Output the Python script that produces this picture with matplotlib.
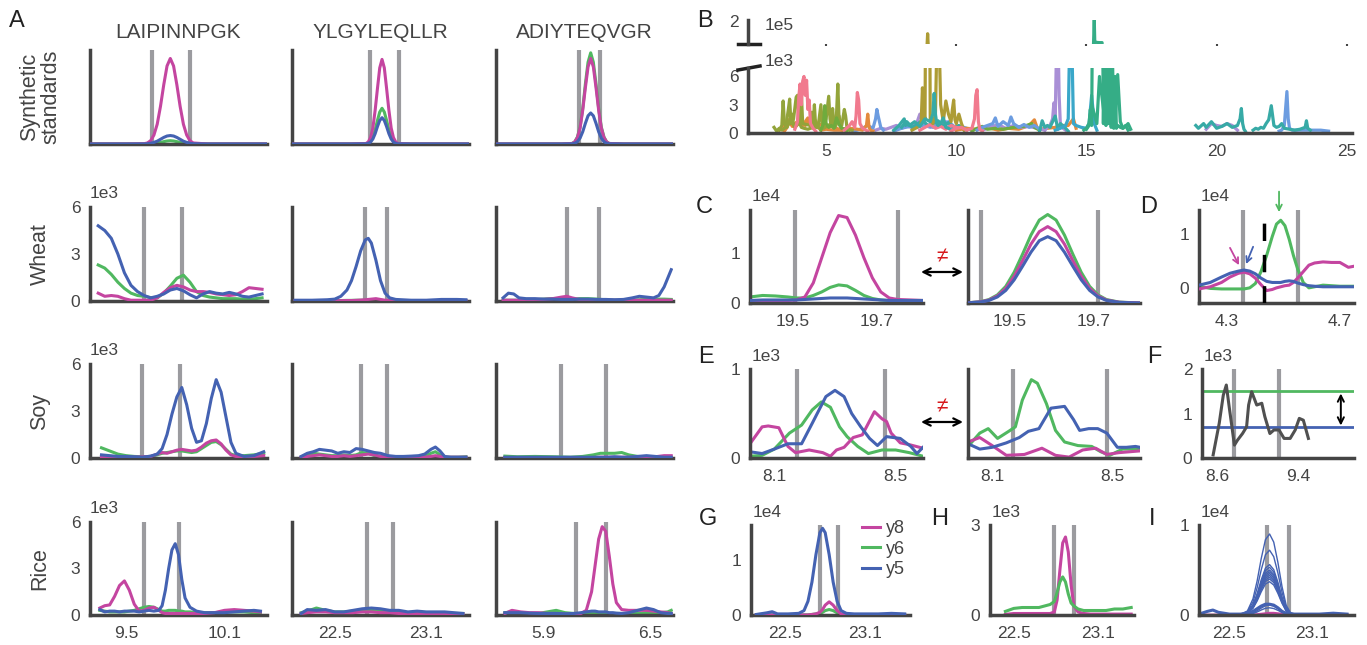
import matplotlib
matplotlib.use("Agg")
import matplotlib.pyplot as plt

plt.rcParams['font.family'] = ['Liberation Sans', 'DejaVu Sans']
plt.rcParams['text.color'] = '#444444'
plt.rcParams['xtick.labelcolor'] = '#444444'
plt.rcParams['ytick.labelcolor'] = '#444444'

PINK = '#c445a0'
GREEN = '#50b860'
BLUE = '#4462b2'
GRAY = '#9b9b9f'
SPINE = '#444444'

# ---------------- panel A data (intensity in 1e3, synthetic row normalised) ----------------
peptides = ['LAIPINNPGK', 'YLGYLEQLLR', 'ADIYTEQVGR']
row_names = ['Synthetic\nstandards', 'Wheat', 'Soy', 'Rice']
A_xlims = [(9.28, 10.36), (22.22, 23.38), (5.63, 6.63)]
A_xticks = [[9.5, 10.1], [22.5, 23.1], [5.9, 6.5]]
A_bounds = [[(9.66, 9.89), (22.73, 22.92), (6.10, 6.22)],
            [(9.61, 9.84), (22.70, 22.84), (6.03, 6.21)],
            [(9.60, 9.83), (22.67, 22.84), (6.00, 6.25)],
            [(9.61, 9.82), (22.71, 22.88), (6.08, 6.25)]]

# synthetic standards
syn1_t = [9.28, 9.50, 9.61, 9.63, 9.65, 9.67, 9.69, 9.71, 9.73, 9.75, 9.77, 9.79, 9.81, 9.83, 9.85, 9.87, 9.89, 9.91, 10.0, 10.36]
syn1_y8 = [0, 0, 0.003, 0.011, 0.035, 0.095, 0.21, 0.40, 0.63, 0.83, 0.91, 0.83, 0.63, 0.40, 0.21, 0.095, 0.035, 0.011, 0, 0]
syn1_y6 = [0, 0, 0, 0.001, 0.003, 0.006, 0.01, 0.017, 0.025, 0.032, 0.035, 0.032, 0.025, 0.017, 0.01, 0.006, 0.003, 0.001, 0, 0]
syn1_y5 = [0, 0, 0.001, 0.003, 0.008, 0.017, 0.03, 0.05, 0.07, 0.085, 0.09, 0.085, 0.07, 0.05, 0.03, 0.017, 0.008, 0.003, 0, 0]

syn2_t = [22.22, 22.60, 22.705, 22.72, 22.735, 22.75, 22.765, 22.78, 22.795, 22.81, 22.825, 22.84, 22.855, 22.87, 22.885, 22.90, 22.915, 23.0, 23.38]
syn2_y8 = [0, 0, 0.005, 0.022, 0.068, 0.17, 0.36, 0.59, 0.81, 0.90, 0.81, 0.59, 0.36, 0.17, 0.068, 0.022, 0.005, 0, 0]
syn2_y6 = [0, 0, 0.002, 0.009, 0.029, 0.072, 0.15, 0.25, 0.34, 0.38, 0.34, 0.25, 0.15, 0.072, 0.029, 0.009, 0.002, 0, 0]
syn2_y5 = [0, 0, 0.002, 0.007, 0.021, 0.053, 0.11, 0.185, 0.25, 0.28, 0.25, 0.185, 0.11, 0.053, 0.021, 0.007, 0.002, 0, 0]

syn3_t = [5.63, 6.0, 6.06, 6.075, 6.09, 6.105, 6.12, 6.135, 6.15, 6.165, 6.18, 6.195, 6.21, 6.225, 6.24, 6.255, 6.27, 6.35, 6.63]
syn3_y8 = [0, 0, 0.005, 0.022, 0.069, 0.17, 0.36, 0.60, 0.82, 0.91, 0.82, 0.60, 0.36, 0.17, 0.069, 0.022, 0.005, 0, 0]
syn3_y6 = [0, 0, 0.006, 0.023, 0.074, 0.18, 0.38, 0.64, 0.87, 0.97, 0.87, 0.64, 0.38, 0.18, 0.074, 0.023, 0.006, 0, 0]
syn3_y5 = [0, 0, 0.002, 0.008, 0.025, 0.063, 0.13, 0.22, 0.30, 0.33, 0.30, 0.22, 0.13, 0.063, 0.025, 0.008, 0.002, 0, 0]

# wheat
wheat1_t = [9.33, 9.37, 9.41, 9.45, 9.49, 9.53, 9.57, 9.61, 9.65, 9.69, 9.73, 9.77, 9.81, 9.85, 9.89, 9.93, 9.97, 10.01, 10.05, 10.09, 10.13, 10.17, 10.21, 10.25, 10.29, 10.33]
wheat1_y8 = [0.5, 0.3, 0.35, 0.3, 0.15, 0.05, 0.05, 0.05, 0.05, 0.2, 0.55, 0.85, 1.0, 0.9, 0.7, 0.6, 0.6, 0.55, 0.45, 0.4, 0.35, 0.4, 0.6, 0.85, 0.8, 0.75]
wheat1_y6 = [2.3, 2.1, 1.7, 1.2, 0.8, 0.5, 0.35, 0.3, 0.22, 0.2, 0.5, 0.95, 1.45, 1.65, 1.2, 0.6, 0.35, 0.25, 0.2, 0.15, 0.15, 0.15, 0.12, 0.1, 0.15, 0.2]
wheat1_y5 = [4.8, 4.5, 4.0, 3.0, 1.8, 1.0, 0.6, 0.35, 0.2, 0.3, 0.45, 0.7, 0.8, 0.65, 0.4, 0.2, 0.45, 0.6, 0.5, 0.45, 0.55, 0.45, 0.3, 0.25, 0.35, 0.45]

wheat2_t = [22.24, 22.35, 22.45, 22.50, 22.54, 22.58, 22.61, 22.64, 22.67, 22.70, 22.72, 22.74, 22.77, 22.80, 22.83, 22.86, 22.90, 23.0, 23.1, 23.2, 23.3, 23.36]
wheat2_y8 = [0.02, 0.02, 0.02, 0.02, 0.02, 0.03, 0.03, 0.04, 0.06, 0.08, 0.1, 0.12, 0.15, 0.1, 0.05, 0.03, 0.02, 0.02, 0.02, 0.02, 0.02, 0.02]
wheat2_y6 = [0.02, 0.02, 0.02, 0.03, 0.03, 0.04, 0.04, 0.05, 0.05, 0.05, 0.05, 0.05, 0.05, 0.04, 0.03, 0.02, 0.02, 0.02, 0.02, 0.02, 0.02, 0.02]
wheat2_y5 = [0.05, 0.05, 0.08, 0.12, 0.3, 0.7, 1.3, 2.2, 3.2, 3.9, 4.0, 3.7, 2.6, 1.3, 0.5, 0.2, 0.1, 0.05, 0.05, 0.1, 0.1, 0.08]

wheat3_t = [5.67, 5.70, 5.73, 5.76, 5.80, 5.85, 5.90, 5.95, 6.00, 6.03, 6.06, 6.10, 6.15, 6.20, 6.25, 6.30, 6.35, 6.40, 6.44, 6.48, 6.52, 6.55, 6.58, 6.62]
wheat3_y8 = [0.05, 0.05, 0.05, 0.05, 0.08, 0.1, 0.1, 0.15, 0.25, 0.3, 0.2, 0.1, 0.08, 0.05, 0.05, 0.05, 0.05, 0.05, 0.05, 0.05, 0.05, 0.05, 0.05, 0.05]
wheat3_y6 = [0.05, 0.05, 0.05, 0.05, 0.05, 0.08, 0.12, 0.15, 0.15, 0.12, 0.1, 0.15, 0.15, 0.12, 0.08, 0.05, 0.05, 0.05, 0.08, 0.1, 0.1, 0.12, 0.12, 0.1]
wheat3_y5 = [0.2, 0.5, 0.45, 0.2, 0.15, 0.15, 0.12, 0.12, 0.1, 0.1, 0.1, 0.12, 0.12, 0.1, 0.1, 0.08, 0.1, 0.2, 0.3, 0.25, 0.2, 0.35, 0.9, 2.0]

# soy
soy1_t = [9.35, 9.40, 9.45, 9.50, 9.55, 9.60, 9.65, 9.69, 9.72, 9.75, 9.78, 9.81, 9.84, 9.87, 9.90, 9.93, 9.96, 9.99, 10.02, 10.05, 10.08, 10.11, 10.14, 10.17, 10.22, 10.28, 10.34]
soy1_y8 = [0.05, 0.05, 0.05, 0.05, 0.05, 0.08, 0.1, 0.25, 0.35, 0.3, 0.4, 0.5, 0.55, 0.5, 0.45, 0.5, 0.7, 0.95, 1.1, 1.15, 0.9, 0.5, 0.2, 0.1, 0.08, 0.1, 0.15]
soy1_y6 = [0.65, 0.45, 0.25, 0.15, 0.1, 0.08, 0.1, 0.2, 0.3, 0.35, 0.4, 0.45, 0.45, 0.4, 0.35, 0.4, 0.6, 0.8, 1.0, 1.05, 0.85, 0.55, 0.25, 0.15, 0.15, 0.2, 0.3]
soy1_y5 = [0.2, 0.15, 0.1, 0.1, 0.08, 0.05, 0.12, 0.25, 0.6, 1.5, 2.8, 3.9, 4.5, 3.4, 1.9, 1.0, 1.1, 2.2, 3.8, 5.0, 4.2, 2.6, 1.0, 0.3, 0.1, 0.15, 0.4]

soy2_t = [22.28, 22.32, 22.36, 22.40, 22.44, 22.48, 22.52, 22.56, 22.60, 22.64, 22.68, 22.72, 22.76, 22.80, 22.85, 22.90, 22.95, 23.00, 23.05, 23.09, 23.13, 23.16, 23.19, 23.22, 23.26, 23.31, 23.36]
soy2_y8 = [0.05, 0.1, 0.15, 0.2, 0.15, 0.1, 0.1, 0.15, 0.1, 0.15, 0.2, 0.25, 0.2, 0.1, 0.05, 0.05, 0.05, 0.05, 0.05, 0.05, 0.1, 0.15, 0.1, 0.05, 0.05, 0.05, 0.05]
soy2_y6 = [0.05, 0.2, 0.3, 0.25, 0.2, 0.15, 0.15, 0.2, 0.15, 0.2, 0.35, 0.3, 0.15, 0.1, 0.08, 0.05, 0.05, 0.05, 0.08, 0.1, 0.3, 0.4, 0.2, 0.05, 0.05, 0.05, 0.08]
soy2_y5 = [0.1, 0.3, 0.4, 0.55, 0.5, 0.45, 0.3, 0.4, 0.35, 0.6, 0.55, 0.45, 0.35, 0.3, 0.15, 0.1, 0.1, 0.12, 0.15, 0.25, 0.55, 0.7, 0.45, 0.1, 0.05, 0.05, 0.05]

soy3_t = [5.68, 5.75, 5.85, 5.95, 6.05, 6.12, 6.18, 6.22, 6.26, 6.30, 6.34, 6.38, 6.43, 6.48, 6.53, 6.58, 6.62]
soy3_y8 = [0.03, 0.03, 0.03, 0.03, 0.03, 0.03, 0.03, 0.05, 0.05, 0.05, 0.05, 0.05, 0.05, 0.05, 0.08, 0.15, 0.15]
soy3_y6 = [0.12, 0.08, 0.1, 0.08, 0.05, 0.1, 0.2, 0.3, 0.3, 0.3, 0.35, 0.2, 0.1, 0.08, 0.05, 0.05, 0.05]
soy3_y5 = [0.05, 0.05, 0.05, 0.05, 0.05, 0.05, 0.05, 0.05, 0.05, 0.08, 0.05, 0.05, 0.1, 0.15, 0.1, 0.05, 0.05]

# rice
rice1_t = [9.34, 9.37, 9.40, 9.43, 9.46, 9.49, 9.52, 9.55, 9.58, 9.61, 9.64, 9.67, 9.70, 9.72, 9.74, 9.76, 9.78, 9.80, 9.82, 9.84, 9.86, 9.89, 9.93, 9.98, 10.04, 10.10, 10.16, 10.22, 10.28, 10.32]
rice1_y8 = [0.45, 0.6, 0.65, 1.2, 1.9, 2.2, 1.6, 0.7, 0.25, 0.3, 0.45, 0.5, 0.3, 0.15, 0.1, 0.1, 0.1, 0.1, 0.1, 0.1, 0.1, 0.1, 0.1, 0.1, 0.15, 0.3, 0.35, 0.3, 0.25, 0.2]
rice1_y6 = [0.3, 0.25, 0.2, 0.2, 0.2, 0.2, 0.25, 0.3, 0.4, 0.5, 0.55, 0.5, 0.35, 0.25, 0.25, 0.3, 0.3, 0.3, 0.25, 0.25, 0.2, 0.2, 0.15, 0.15, 0.15, 0.2, 0.2, 0.2, 0.15, 0.15]
rice1_y5 = [0.35, 0.2, 0.25, 0.25, 0.2, 0.25, 0.25, 0.25, 0.2, 0.25, 0.3, 0.25, 0.3, 0.6, 1.6, 3.0, 4.2, 4.6, 3.9, 2.3, 1.1, 0.5, 0.25, 0.15, 0.15, 0.15, 0.2, 0.25, 0.3, 0.25]

rice2_t = [22.28, 22.32, 22.38, 22.44, 22.50, 22.56, 22.62, 22.68, 22.74, 22.80, 22.86, 22.92, 22.98, 23.04, 23.10, 23.16, 23.22, 23.28, 23.34]
rice2_y8 = [0.1, 0.15, 0.2, 0.2, 0.15, 0.15, 0.15, 0.2, 0.2, 0.15, 0.15, 0.1, 0.1, 0.1, 0.1, 0.1, 0.1, 0.08, 0.08]
rice2_y6 = [0.15, 0.25, 0.45, 0.3, 0.2, 0.2, 0.25, 0.3, 0.3, 0.25, 0.2, 0.2, 0.15, 0.15, 0.15, 0.15, 0.1, 0.1, 0.1]
rice2_y5 = [0.1, 0.35, 0.3, 0.35, 0.2, 0.2, 0.3, 0.4, 0.45, 0.4, 0.3, 0.3, 0.2, 0.25, 0.2, 0.2, 0.2, 0.15, 0.1]

rice3_t = [5.68, 5.72, 5.77, 5.82, 5.87, 5.92, 5.97, 6.02, 6.07, 6.11, 6.14, 6.17, 6.19, 6.21, 6.23, 6.25, 6.27, 6.29, 6.31, 6.34, 6.38, 6.43, 6.48, 6.52, 6.56, 6.60, 6.62]
rice3_y8 = [0.1, 0.3, 0.2, 0.15, 0.15, 0.1, 0.1, 0.05, 0.05, 0.1, 0.3, 1.5, 3.2, 4.9, 5.7, 5.4, 3.8, 2.0, 0.8, 0.35, 0.3, 0.3, 0.3, 0.25, 0.2, 0.15, 0.1]
rice3_y6 = [0.15, 0.2, 0.15, 0.1, 0.1, 0.2, 0.3, 0.15, 0.1, 0.08, 0.1, 0.1, 0.1, 0.1, 0.1, 0.1, 0.1, 0.1, 0.1, 0.1, 0.1, 0.1, 0.15, 0.15, 0.15, 0.2, 0.3]
rice3_y5 = [0.15, 0.15, 0.15, 0.12, 0.1, 0.1, 0.1, 0.08, 0.1, 0.15, 0.2, 0.25, 0.25, 0.2, 0.2, 0.2, 0.15, 0.15, 0.12, 0.1, 0.15, 0.3, 0.45, 0.35, 0.15, 0.1, 0.1]

# ---------------- panel B data (TIC-like traces, 1e3) ----------------
b_olgreen_x = [3.0, 3.1, 3.2, 3.3, 3.45, 3.55, 3.6, 3.65, 3.75, 3.85, 3.9, 3.95, 4.05, 4.15, 4.3, 4.5, 4.7, 4.8, 4.85, 4.9, 5.0, 5.1, 5.15, 5.2, 5.3, 5.4, 5.45, 5.5, 5.6, 5.7, 5.75, 5.8, 5.9]
b_olgreen_y = [0.6, 0.2, 0.5, 0.3, 0.6, 2.5, 3.6, 1.0, 1.5, 3.8, 4.0, 1.2, 0.6, 0.5, 0.4, 0.6, 0.8, 3.0, 1.0, 0.8, 1.5, 3.9, 1.5, 0.7, 1.0, 2.0, 5.2, 1.2, 0.8, 2.5, 1.8, 0.6, 0.3]
b_olgreen2_x = [3.2, 3.3, 3.35, 3.4, 3.5, 3.7, 3.75, 3.8, 4.0, 4.05, 4.1, 4.4, 4.45, 4.5, 4.55, 4.6, 4.9, 5.2, 5.25, 5.3, 5.35, 5.5, 5.55, 5.6, 6.0]
b_olgreen2_y = [0.3, 0.8, 3.4, 1.0, 0.6, 2.0, 0.8, 0.6, 1.2, 4.2, 1.0, 0.8, 2.2, 0.7, 3.0, 0.6, 0.5, 1.0, 2.6, 1.0, 0.6, 1.8, 0.7, 0.5, 0.3]
b_orange1_x = [3.4, 3.5, 3.6, 3.7, 3.8, 3.9, 4.0, 4.1, 4.2, 4.3, 4.4, 4.5, 4.6, 4.7, 4.8, 5.0, 5.3, 5.6, 5.9, 6.2, 6.4, 6.55, 6.6, 6.65, 6.7, 6.8]
b_orange1_y = [0.2, 0.6, 1.5, 0.7, 1.0, 1.2, 2.0, 0.8, 1.2, 1.6, 0.7, 0.5, 1.3, 0.6, 0.3, 0.4, 0.3, 0.3, 0.5, 0.4, 0.3, 0.8, 2.0, 0.6, 0.3, 0.2]
b_orange3_x = [3.2, 3.4, 3.6, 3.8, 4.0, 4.2, 4.4, 4.6, 4.8, 5.0, 5.2, 5.4, 5.6]
b_orange3_y = [0.3, 0.8, 1.0, 0.6, 1.2, 0.8, 1.4, 0.7, 0.9, 0.6, 0.8, 0.5, 0.3]
b_pink1_x = [3.8, 3.9, 3.95, 4.0, 4.05, 4.1, 4.15, 4.2, 4.25, 4.3, 4.35, 4.4, 4.5, 4.6]
b_pink1_y = [0.4, 1.2, 3.8, 5.2, 3.0, 5.5, 6.0, 4.0, 5.6, 2.5, 3.5, 1.0, 0.5, 0.2]
b_pink2_x = [5.7, 5.9, 6.0, 6.1, 6.15, 6.2, 6.25, 6.3, 6.4, 6.6]
b_pink2_y = [0.3, 0.8, 1.2, 0.6, 1.8, 4.3, 3.5, 1.0, 0.5, 0.2]
b_pink3_x = [9.8, 10.0, 10.2, 10.4, 10.6, 10.7, 10.75, 10.8, 10.85, 10.9, 11.0]
b_pink3_y = [0.2, 0.5, 0.6, 0.3, 0.5, 1.5, 4.0, 4.6, 1.2, 0.4, 0.2]
b_pink4_x = [8.6, 8.8, 9.0, 9.2, 9.4, 9.6, 9.8, 10.0, 10.2, 10.4]
b_pink4_y = [0.3, 0.6, 0.9, 0.5, 0.7, 0.4, 0.8, 0.6, 0.5, 0.3]
b_green1_x = [4.8, 4.9, 4.95, 5.0, 5.1, 5.2, 5.3, 5.4, 5.5, 5.6, 5.7, 5.8]
b_green1_y = [0.3, 1.0, 2.9, 1.0, 0.6, 0.8, 0.5, 1.6, 0.9, 0.5, 0.4, 0.2]
b_green2_x = [10.6, 10.8, 11.0, 11.2, 11.5, 11.8, 12.2, 12.6, 12.9, 13.0, 13.2]
b_green2_y = [0.2, 0.5, 0.7, 0.4, 0.5, 0.4, 0.6, 0.7, 1.0, 0.6, 0.3]
b_olive_x = [8.3, 8.5, 8.65, 8.7, 8.75, 8.8, 8.85, 8.9, 8.95, 9.0, 9.1, 9.2, 9.25, 9.3, 9.35, 9.4, 9.5, 9.6, 9.7, 9.8, 9.85, 9.9, 9.95, 10.0, 10.1, 10.2, 10.3]
b_olive_y = [0.3, 0.6, 1.0, 4.8, 2.0, 1.5, 30, 145, 30, 1.5, 1.0, 2.0, 9, 12, 9, 3, 1.2, 3.4, 2.0, 1.2, 2.5, 3.5, 1.4, 1.0, 2.0, 1.0, 0.3]
b_teal1_x = [7.9, 8.0, 8.2, 8.4, 8.6, 8.8, 9.0, 9.1, 9.15, 9.2, 9.25, 9.3, 9.4, 9.5, 9.6, 9.7, 9.8]
b_teal1_y = [0.6, 1.0, 0.8, 1.2, 0.7, 1.5, 1.2, 2.0, 4.2, 2.0, 1.0, 0.8, 1.0, 1.6, 0.6, 0.5, 0.3]
b_teal5_x = [7.6, 7.8, 8.0, 8.05, 8.1, 8.3, 8.5, 8.7, 8.9, 9.1, 9.3, 9.5, 9.7, 9.9, 10.1, 10.3]
b_teal5_y = [0.3, 0.8, 1.5, 0.8, 1.2, 0.6, 0.9, 1.4, 0.8, 1.0, 1.3, 0.7, 1.1, 0.6, 0.8, 0.3]
b_teal2_x = [13.2, 13.3, 13.4, 13.5, 13.6, 13.8, 13.9, 14.0, 14.2, 14.3]
b_teal2_y = [0.2, 1.3, 0.6, 0.8, 0.6, 1.8, 0.4, 1.0, 0.5, 0.2]
b_teal3_x = [19.2, 19.3, 19.5, 19.6, 19.8, 20.0, 20.2, 20.4, 20.6, 20.8, 20.9, 20.95, 21.0, 21.05, 21.1]
b_teal3_y = [0.8, 0.5, 1.0, 0.6, 1.2, 0.5, 0.7, 1.0, 0.6, 0.8, 1.5, 2.6, 1.0, 0.4, 0.2]
b_teal4_x = [21.4, 21.5, 21.6, 21.7, 21.8, 21.9, 22.0, 22.1, 22.2, 22.3, 22.4, 22.5, 22.6, 22.8, 23.0, 23.2, 23.4, 23.45, 23.5, 23.6]
b_teal4_y = [0.3, 0.5, 0.4, 0.6, 0.5, 1.0, 1.4, 2.9, 0.8, 0.6, 0.7, 1.0, 0.5, 0.4, 0.3, 0.4, 0.6, 1.3, 0.5, 0.3]
b_purple1_x = [6.9, 7.1, 7.3, 7.5, 7.7, 7.9, 8.1, 8.3, 8.5, 8.6, 8.7, 8.8, 9.0, 9.2, 9.4, 9.6, 9.8, 10.0]
b_purple1_y = [0.3, 0.5, 0.4, 0.6, 0.8, 0.5, 0.7, 0.6, 1.2, 2.0, 1.5, 0.8, 0.6, 1.0, 0.8, 1.2, 0.6, 0.3]
b_purple2_x = [13.4, 13.5, 13.6, 13.7, 13.75, 13.8, 13.85, 13.9, 13.95, 14.0, 14.1, 14.2]
b_purple2_y = [0.3, 0.6, 0.8, 1.5, 3.2, 1.5, 9, 12, 4, 0.8, 0.5, 0.3]
b_purple3_x = [19.6, 19.8, 20.0, 20.2, 20.4, 20.6, 20.8]
b_purple3_y = [0.4, 1.0, 0.8, 0.7, 1.0, 0.8, 0.3]
b_purple4_x = [11.0, 11.3, 11.6, 11.9, 12.2, 12.5, 12.8, 13.1, 13.4]
b_purple4_y = [0.3, 0.6, 0.9, 0.5, 0.8, 0.6, 0.7, 0.5, 0.3]
b_lblue1_x = [6.0, 6.2, 6.4, 6.6, 6.8, 6.9, 6.95, 7.0, 7.1, 7.2]
b_lblue1_y = [0.2, 0.3, 0.5, 0.8, 0.5, 1.5, 2.5, 1.8, 0.6, 0.3]
b_lblue2_x = [10.8, 11.0, 11.2, 11.4, 11.5, 11.6, 11.8, 12.0, 12.1, 12.2, 12.4, 12.6, 12.8, 13.0, 13.2]
b_lblue2_y = [0.3, 0.6, 0.8, 1.0, 1.6, 0.7, 1.2, 0.8, 1.7, 1.0, 0.6, 0.9, 0.6, 0.8, 0.4]
b_lblue3_x = [22.4, 22.5, 22.6, 22.7, 22.75, 22.8, 22.9, 23.0, 23.5, 24.0, 24.3]
b_lblue3_y = [0.2, 0.3, 0.8, 4.4, 1.5, 0.5, 0.3, 0.3, 0.3, 0.3, 0.2]
b_lblue4_x = [7.6, 7.9, 8.2, 8.5, 8.8, 9.1, 9.4, 9.7, 10.0, 10.3, 10.6]
b_lblue4_y = [0.2, 0.5, 0.7, 0.6, 0.9, 0.6, 0.8, 1.2, 0.5, 0.6, 0.3]
b_orange2_x = [10.0, 10.4, 10.8, 11.2, 11.6, 12.0, 12.4, 12.8, 13.0, 13.1, 13.2, 13.5, 13.8, 14.0, 14.3, 14.5, 14.6]
b_orange2_y = [0.3, 0.5, 0.4, 0.6, 0.3, 0.5, 0.4, 0.8, 1.4, 0.6, 0.4, 0.5, 0.6, 0.8, 0.8, 1.5, 0.5]
b_blue_x = [13.8, 14.0, 14.2, 14.3, 14.35, 14.4, 14.45, 14.5, 14.6, 14.8, 15.0, 15.1, 15.2, 15.3, 15.4]
b_blue_y = [0.3, 0.5, 0.8, 1.5, 9, 12, 8, 1.0, 0.8, 0.6, 0.5, 1.0, 4.0, 1.0, 0.3]
b_tgreen_x = [14.9, 15.0, 15.1, 15.15, 15.2, 15.25, 15.3, 15.32, 15.4, 15.5, 15.6, 15.62, 15.65, 15.7, 15.75, 15.8, 15.85, 15.9, 15.95, 16.0, 16.05, 16.1, 16.15, 16.2, 16.3, 16.4, 16.5, 16.6]
b_tgreen_y = [0.3, 0.5, 1.0, 2.5, 0.8, 20, 205, 108, 107, 106, 106, 12, 1.0, 10, 0.8, 15, 1.0, 12, 0.6, 8, 0.5, 6.0, 0.5, 0.8, 0.6, 0.5, 0.8, 0.3]
b_tgreen2_x = [15.0, 15.1, 15.2, 15.4, 15.5, 15.7, 15.9, 16.1, 16.2, 16.3, 16.4, 16.5, 16.6, 16.7]
b_tgreen2_y = [0.4, 0.8, 3.0, 1.0, 6.0, 1.5, 5.5, 1.0, 6.2, 1.2, 0.5, 0.7, 1.0, 0.4]

# ---------------- panel C (1e4) ----------------
c1_t = [19.40, 19.43, 19.46, 19.49, 19.51, 19.53, 19.55, 19.57, 19.59, 19.61, 19.63, 19.65, 19.67, 19.69, 19.71, 19.73, 19.75, 19.78, 19.81]
c1_y8 = [0.05, 0.05, 0.05, 0.05, 0.06, 0.12, 0.4, 0.9, 1.4, 1.74, 1.7, 1.35, 0.9, 0.5, 0.22, 0.1, 0.07, 0.06, 0.05]
c1_y6 = [0.12, 0.15, 0.14, 0.12, 0.1, 0.1, 0.15, 0.22, 0.31, 0.36, 0.34, 0.25, 0.15, 0.09, 0.06, 0.05, 0.05, 0.05, 0.05]
c1_y5 = [0.05, 0.06, 0.06, 0.06, 0.06, 0.07, 0.08, 0.09, 0.1, 0.1, 0.1, 0.09, 0.08, 0.07, 0.06, 0.05, 0.05, 0.05, 0.05]
c2_t = [19.40, 19.43, 19.45, 19.47, 19.49, 19.51, 19.53, 19.55, 19.57, 19.59, 19.61, 19.63, 19.65, 19.67, 19.69, 19.71, 19.73, 19.76, 19.81]
c2_y8 = [0.005, 0.023, 0.059, 0.14, 0.29, 0.53, 0.84, 1.17, 1.42, 1.52, 1.42, 1.17, 0.84, 0.53, 0.29, 0.14, 0.059, 0.015, 0]
c2_y6 = [0.005, 0.026, 0.069, 0.16, 0.33, 0.61, 0.97, 1.35, 1.65, 1.76, 1.65, 1.35, 0.97, 0.61, 0.33, 0.16, 0.069, 0.018, 0]
c2_y5 = [0.004, 0.02, 0.051, 0.12, 0.25, 0.46, 0.73, 1.01, 1.24, 1.32, 1.24, 1.01, 0.73, 0.46, 0.25, 0.12, 0.051, 0.013, 0]
c1_bounds = [19.507, 19.75]
c2_bounds = [19.43, 19.71]

# ---------------- panel D (1e4) ----------------
d_t = [4.20, 4.24, 4.28, 4.31, 4.34, 4.36, 4.38, 4.40, 4.42, 4.44, 4.46, 4.475, 4.49, 4.505, 4.52, 4.535, 4.55, 4.57, 4.59, 4.61, 4.64, 4.67, 4.70, 4.73, 4.75]
d_y8 = [-0.02, 0.02, 0.1, 0.2, 0.27, 0.29, 0.26, 0.18, 0.06, -0.05, -0.03, 0.0, 0.02, 0.04, 0.05, 0.1, 0.18, 0.3, 0.42, 0.46, 0.48, 0.47, 0.47, 0.38, 0.4]
d_y6 = [0.03, -0.01, -0.02, -0.02, -0.02, -0.02, 0.0, 0.08, 0.3, 0.6, 0.95, 1.18, 1.25, 1.15, 0.9, 0.6, 0.35, 0.1, 0.0, 0.02, 0.05, 0.04, 0.03, 0.03, 0.03]
d_y5 = [0.05, 0.1, 0.2, 0.27, 0.31, 0.33, 0.31, 0.26, 0.18, 0.12, 0.1, 0.1, 0.1, 0.12, 0.13, 0.12, 0.09, 0.06, 0.04, 0.03, 0.02, 0.02, 0.02, 0.02, 0.02]
d_bounds = [4.355, 4.55]
d_cut = 4.43

# ---------------- panel E (1e3) ----------------
e1_y8_t = [8.02, 8.06, 8.08, 8.115, 8.145, 8.17, 8.215, 8.26, 8.285, 8.305, 8.33, 8.36, 8.39, 8.43, 8.455, 8.47, 8.485, 8.515, 8.545, 8.59]
e1_y8 = [0.16, 0.35, 0.36, 0.34, 0.13, 0.06, 0.09, 0.06, 0.02, 0.09, 0.12, 0.23, 0.26, 0.52, 0.44, 0.41, 0.28, 0.17, 0.15, 0.11]
e1_y6_t = [8.02, 8.06, 8.10, 8.15, 8.19, 8.225, 8.255, 8.285, 8.315, 8.34, 8.375, 8.41, 8.455, 8.50, 8.545, 8.59]
e1_y6 = [0.02, 0.03, 0.1, 0.28, 0.37, 0.54, 0.63, 0.57, 0.35, 0.24, 0.13, 0.05, 0.09, 0.09, 0.06, 0.02]
e1_y5_t = [8.02, 8.06, 8.10, 8.145, 8.19, 8.225, 8.27, 8.30, 8.33, 8.355, 8.385, 8.414, 8.44, 8.47, 8.515, 8.55, 8.57, 8.59]
e1_y5 = [0.07, 0.05, 0.1, 0.16, 0.16, 0.39, 0.69, 0.76, 0.69, 0.5, 0.35, 0.22, 0.14, 0.24, 0.22, 0.13, 0.05, 0.12]
e2_y8_t = [8.02, 8.059, 8.10, 8.147, 8.207, 8.265, 8.31, 8.355, 8.40, 8.443, 8.48, 8.52, 8.59]
e2_y8 = [0.18, 0.23, 0.14, 0.03, 0.04, 0.11, 0.03, 0.01, 0.09, 0.11, 0.04, 0.06, 0.08]
e2_y6_t = [8.02, 8.059, 8.087, 8.118, 8.155, 8.177, 8.20, 8.23, 8.25, 8.28, 8.31, 8.34, 8.384, 8.43, 8.46, 8.49, 8.532, 8.59]
e2_y6 = [0.13, 0.28, 0.33, 0.22, 0.3, 0.35, 0.65, 0.88, 0.84, 0.61, 0.31, 0.18, 0.14, 0.13, 0.07, 0.03, 0.1, 0.1]
e2_y5_t = [8.02, 8.059, 8.10, 8.147, 8.19, 8.22, 8.255, 8.295, 8.34, 8.37, 8.39, 8.42, 8.45, 8.48, 8.515, 8.545, 8.575, 8.59]
e2_y5 = [0.16, 0.1, 0.12, 0.17, 0.23, 0.3, 0.33, 0.56, 0.58, 0.43, 0.31, 0.33, 0.33, 0.28, 0.12, 0.12, 0.13, 0.12]
e1_bounds = [8.175, 8.465]
e2_bounds = [8.17, 8.48]

# ---------------- panel F (1e3) ----------------
f_t = [8.56, 8.62, 8.66, 8.69, 8.72, 8.77, 8.80, 8.85, 8.89, 8.91, 8.94, 8.99, 9.04, 9.07, 9.12, 9.16, 9.21, 9.26, 9.32, 9.37, 9.41, 9.45, 9.50]
f_y = [0.07, 0.78, 1.41, 1.64, 1.12, 0.29, 0.4, 0.55, 0.7, 1.19, 1.49, 1.19, 1.23, 0.93, 0.55, 0.63, 0.63, 0.44, 0.44, 0.63, 0.89, 0.85, 0.44]
f_levels = [1.5, 0.7]
f_bounds = [8.77, 9.21]

# ---------------- panels G, H, I ----------------
g_t = [22.28, 22.36, 22.40, 22.44, 22.52, 22.60, 22.64, 22.67, 22.70, 22.73, 22.76, 22.78, 22.80, 22.83, 22.86, 22.89, 22.92, 22.96, 23.02, 23.10, 23.20, 23.30, 23.40]
g_y8 = [0, 0, 0, 0, 0, 0, 0, 0, 0.01, 0.02, 0.05, 0.1, 0.18, 0.24, 0.18, 0.08, 0.02, 0, 0, 0, 0, 0, 0]
g_y6 = [0, 0, 0, 0, 0, 0, 0, 0, 0.01, 0.02, 0.03, 0.05, 0.08, 0.1, 0.08, 0.04, 0.01, 0, 0, 0, 0, 0, 0]
g_y5 = [0.01, 0.04, 0.06, 0.02, 0.02, 0.03, 0.08, 0.25, 0.6, 1.1, 1.5, 1.58, 1.5, 1.1, 0.6, 0.25, 0.08, 0.03, 0.02, 0.02, 0.02, 0.03, 0.02]
g_bounds = [22.76, 22.90]

h_t = [22.44, 22.50, 22.56, 22.62, 22.68, 22.72, 22.76, 22.79, 22.81, 22.83, 22.85, 22.87, 22.89, 22.91, 22.93, 22.96, 23.00, 23.05, 23.10, 23.16, 23.22, 23.28, 23.34]
h_y8 = [0.02, 0.05, 0.05, 0.05, 0.05, 0.05, 0.05, 0.1, 0.5, 1.5, 2.4, 2.6, 2.1, 1.0, 0.3, 0.1, 0.05, 0.03, 0.03, 0.03, 0.03, 0.03, 0.03]
h_y6 = [0.12, 0.22, 0.25, 0.25, 0.25, 0.3, 0.35, 0.45, 0.75, 1.1, 1.27, 1.1, 0.7, 0.4, 0.3, 0.2, 0.15, 0.15, 0.15, 0.15, 0.2, 0.2, 0.25]
h_bounds = [22.79, 22.93]

i_t = [22.30, 22.34, 22.38, 22.42, 22.50, 22.58, 22.63, 22.67, 22.70, 22.73, 22.76, 22.79, 22.82, 22.85, 22.88, 22.91, 22.94, 22.98, 23.05, 23.15, 23.25, 23.35]
i_profile = [0, 0, 0, 0, 0, 0.01, 0.05, 0.2, 0.42, 0.7, 0.93, 1.0, 0.9, 0.65, 0.35, 0.12, 0.03, 0.01, 0, 0, 0, 0]
i_heights = [0.90, 0.72, 0.56, 0.53, 0.50, 0.48, 0.46, 0.44, 0.42, 0.40, 0.37, 0.11, 0.08]
i_y5_main = [0.02, 0.04, 0.055, 0.03, 0.01, 0.01, 0.02, 0.04, 0.07, 0.1, 0.12, 0.12, 0.11, 0.08, 0.04, 0.02, 0.01, 0.01, 0.01, 0.01, 0.02, 0.01]
i_y8 = [0, 0, 0, 0, 0, 0, 0, 0, 0.005, 0.01, 0.015, 0.02, 0.02, 0.015, 0.01, 0.005, 0, 0, 0, 0, 0, 0]
i_bounds = [22.77, 22.93]

# ---------------- figure ----------------
W, H = 1367, 645
fig = plt.figure(figsize=(W / 100, H / 100), dpi=100)


def ax_px(x0, x1, yt, yb):
    return fig.add_axes([x0 / W, 1 - yb / H, (x1 - x0) / W, (yb - yt) / H])


def style(ax, xlim, ylim, xticks=(), yticks=(), ypad=7):
    ax.set_xlim(xlim)
    ax.set_ylim(ylim)
    ax.set_xticks(list(xticks), labels=[str(v) for v in xticks])
    ax.set_yticks(list(yticks), labels=[str(v) for v in yticks])
    for s in ('top', 'right'):
        ax.spines[s].set_visible(False)
    for s in ('left', 'bottom'):
        ax.spines[s].set_linewidth(2.5)
        ax.spines[s].set_color(SPINE)
    ax.tick_params(axis='x', length=0, labelsize=12.5, pad=8)
    ax.tick_params(axis='y', length=0, labelsize=12.5, pad=ypad)
    ax.patch.set_alpha(0)


def bounds(ax, xs):
    for x in xs:
        ax.axvline(x, color=GRAY, lw=3, zorder=1)


def three(ax, t, y8, y6, y5, lw=2.2):
    l6, = ax.plot(t, y6, color=GREEN, lw=lw, zorder=2)
    l8, = ax.plot(t, y8, color=PINK, lw=lw, zorder=3)
    l5, = ax.plot(t, y5, color=BLUE, lw=lw, zorder=4)
    return l8, l6, l5


def unit(ax, s, dx=0.0):
    ax.text(dx, 1.06, s, transform=ax.transAxes, ha='left', va='bottom', fontsize=12.5)


def letter(x, y, s):
    fig.text(x / W, 1 - y / H, s, fontsize=17, ha='center', va='center', color='#222222')


# panel A
A_data = [[(syn1_t, syn1_y8, syn1_y6, syn1_y5), (syn2_t, syn2_y8, syn2_y6, syn2_y5), (syn3_t, syn3_y8, syn3_y6, syn3_y5)],
          [(wheat1_t, wheat1_y8, wheat1_y6, wheat1_y5), (wheat2_t, wheat2_y8, wheat2_y6, wheat2_y5), (wheat3_t, wheat3_y8, wheat3_y6, wheat3_y5)],
          [(soy1_t, soy1_y8, soy1_y6, soy1_y5), (soy2_t, soy2_y8, soy2_y6, soy2_y5), (soy3_t, soy3_y8, soy3_y6, soy3_y5)],
          [(rice1_t, rice1_y8, rice1_y6, rice1_y5), (rice2_t, rice2_y8, rice2_y6, rice2_y5), (rice3_t, rice3_y8, rice3_y6, rice3_y5)]]
col_x = [(90, 267), (292, 469), (496, 673)]
row_y = [(50, 144), (207, 301), (364, 458), (522, 615)]

for r in range(4):
    for c in range(3):
        ax = ax_px(col_x[c][0], col_x[c][1], row_y[r][0], row_y[r][1])
        t, y8, y6, y5 = A_data[r][c]
        bounds(ax, A_bounds[r][c])
        three(ax, t, y8, y6, y5)
        ylim = (0, 1) if r == 0 else (0, 6)
        yt = [0, 3, 6] if (r > 0 and c == 0) else []
        xt = A_xticks[c] if r == 3 else []
        style(ax, A_xlims[c], ylim, xt, yt)
        if r == 0:
            ax.set_title(peptides[c], fontsize=15, color='#444444', pad=9)
        if c == 0 and r > 0:
            unit(ax, '1e3')
        if c == 0:
            fig.text(40 / W, 1 - (row_y[r][0] + row_y[r][1]) / 2 / H, row_names[r], rotation=90,
                     ha='center', va='center', fontsize=15.5, linespacing=1.0)

letter(17, 21, 'A')

# panel B
bx_lo = ax_px(748, 1352, 68, 133)
bx_hi = ax_px(748, 1352, 20, 44)
b_traces = [(b_purple1_x, b_purple1_y, '#a98fd6'), (b_lblue4_x, b_lblue4_y, '#6c9ce0'),
            (b_teal5_x, b_teal5_y, '#37aaa6'), (b_pink4_x, b_pink4_y, '#f17a8e'),
            (b_lblue1_x, b_lblue1_y, '#6c9ce0'), (b_orange3_x, b_orange3_y, '#e38a3c'),
            (b_orange1_x, b_orange1_y, '#e38a3c'), (b_olgreen2_x, b_olgreen2_y, '#93a43a'),
            (b_olgreen_x, b_olgreen_y, '#93a43a'),
            (b_green1_x, b_green1_y, '#6fab3d'), (b_pink1_x, b_pink1_y, '#f17a8e'),
            (b_pink2_x, b_pink2_y, '#f17a8e'), (b_olive_x, b_olive_y, '#ad9c35'),
            (b_teal1_x, b_teal1_y, '#37aaa6'), (b_orange2_x, b_orange2_y, '#e38a3c'),
            (b_purple4_x, b_purple4_y, '#a98fd6'),
            (b_green2_x, b_green2_y, '#6fab3d'), (b_lblue2_x, b_lblue2_y, '#6c9ce0'),
            (b_pink3_x, b_pink3_y, '#f17a8e'), (b_purple2_x, b_purple2_y, '#a98fd6'),
            (b_teal2_x, b_teal2_y, '#37aaa6'), (b_blue_x, b_blue_y, '#3aa7c9'),
            (b_tgreen2_x, b_tgreen2_y, '#35ad86'),
            (b_tgreen_x, b_tgreen_y, '#35ad86'), (b_purple3_x, b_purple3_y, '#a98fd6'),
            (b_teal3_x, b_teal3_y, '#37aaa6'), (b_lblue3_x, b_lblue3_y, '#6c9ce0'),
            (b_teal4_x, b_teal4_y, '#37aaa6')]
for x, y, col in b_traces:
    bx_lo.plot(x, y, color=col, lw=2.3)
    bx_hi.plot(x, [v / 100 for v in y], color=col, lw=2.3)
style(bx_lo, (2, 25.2), (0, 6.9), [5, 10, 15, 20, 25], [0, 3, 6])
style(bx_hi, (2, 25.2), (1.0, 2.05), [], [2])
bx_hi.spines['bottom'].set_visible(False)
bx_hi.set_xticks([5, 10, 15, 20, 25], labels=['', '', '', '', ''])
bx_hi.tick_params(axis='x', length=1.5, width=1.5, color=SPINE, pad=0)
for yy, dy in ((44, 0), (68, 2)):
    bx_lo.plot([738, 760], [H - yy - dy, H - yy + dy], transform=None, color='#222222', lw=2.5,
               clip_on=False)
fig.text(765 / W, 1 - 26 / H, '1e5', fontsize=12.5, ha='left', va='center')
fig.text(765 / W, 1 - 62 / H, '1e3', fontsize=12.5, ha='left', va='center')
letter(705, 21, 'B')

# panel C
axc1 = ax_px(750, 923, 210, 303)
bounds(axc1, c1_bounds)
three(axc1, c1_t, c1_y8, c1_y6, c1_y5)
style(axc1, (19.40, 19.81), (0, 1.85), [19.5, 19.7], [0, 1])
unit(axc1, '1e4', 0.01)
axc2 = ax_px(968, 1140, 210, 303)
bounds(axc2, c2_bounds)
three(axc2, c2_t, c2_y8, c2_y6, c2_y5)
style(axc2, (19.40, 19.81), (0, 1.85), [19.5, 19.7], [])
letter(704, 207, 'C')

for yy in (272, 422):
    axc1.annotate('', xy=(963, H - yy), xytext=(921, H - yy), xycoords='figure pixels',
                  textcoords='figure pixels', annotation_clip=False,
                  arrowprops=dict(arrowstyle='<->', lw=1.6, color='black', mutation_scale=13,
                                  shrinkA=0, shrinkB=0))
    fig.text(942 / W, 1 - (yy - 15) / H, '\u2260', color='#d7191c', fontsize=15, ha='center', va='center')

# panel D
axd = ax_px(1199, 1354, 210, 303)
bounds(axd, d_bounds)
axd.vlines(d_cut, -0.28, 1.22, color='black', lw=2.5, linestyles=(0, (5, 4)), zorder=5)
three(axd, d_t, d_y8, d_y6, d_y5)
style(axd, (4.2, 4.75), (-0.28, 1.44), [4.3, 4.7], [0, 1])
unit(axd, '1e4', 0.01)
for (x0, y0, x1, y1, col) in ((4.31, 0.74, 4.342, 0.42, PINK), (4.392, 0.76, 4.367, 0.44, BLUE),
                              (4.484, 1.78, 4.484, 1.40, GREEN)):
    axd.annotate('', xy=(x1, y1), xytext=(x0, y0), annotation_clip=False,
                 arrowprops=dict(arrowstyle='->', lw=1.3, color=col, mutation_scale=10,
                                 shrinkA=0, shrinkB=0))
letter(1149, 207, 'D')

# panel E
axe1 = ax_px(750, 923, 369, 458)
bounds(axe1, e1_bounds)
axe1.plot(e1_y6_t, e1_y6, color=GREEN, lw=2.2)
axe1.plot(e1_y8_t, e1_y8, color=PINK, lw=2.2)
axe1.plot(e1_y5_t, e1_y5, color=BLUE, lw=2.2)
style(axe1, (8.02, 8.59), (0, 1), [8.1, 8.5], [0, 1])
unit(axe1, '1e3', 0.01)
axe2 = ax_px(968, 1140, 369, 458)
bounds(axe2, e2_bounds)
axe2.plot(e2_y6_t, e2_y6, color=GREEN, lw=2.2)
axe2.plot(e2_y8_t, e2_y8, color=PINK, lw=2.2)
axe2.plot(e2_y5_t, e2_y5, color=BLUE, lw=2.2)
style(axe2, (8.02, 8.59), (0, 1), [8.1, 8.5], [])
letter(706, 357, 'E')

# panel F
axf = ax_px(1202, 1354, 369, 458)
bounds(axf, f_bounds)
axf.axhline(f_levels[0], color=GREEN, lw=2)
axf.axhline(f_levels[1], color=BLUE, lw=2)
axf.plot(f_t, f_y, color='#505050', lw=2.2)
axf.annotate('', xy=(9.82, f_levels[1] + 0.03), xytext=(9.82, f_levels[0] - 0.05),
             arrowprops=dict(arrowstyle='<->', lw=1.4, color='black', mutation_scale=11,
                             shrinkA=0, shrinkB=0))
style(axf, (8.45, 9.95), (0, 2), [8.6, 9.4], [0, 1, 2])
unit(axf, '1e3', 0.01)
letter(1154, 357, 'F')

# panel G
axg = ax_px(751, 910, 525, 615)
bounds(axg, g_bounds)
g_lines = three(axg, g_t, g_y8, g_y6, g_y5)
style(axg, (22.24, 23.44), (0, 1.64), [22.5, 23.1], [0, 1])
unit(axg, '1e4', 0.01)
axg.legend(g_lines, ['y8', 'y6', 'y5'], loc='upper left',
           bbox_to_anchor=(862 / W, 1 - 520 / H), bbox_transform=fig.transFigure, frameon=False,
           fontsize=13, handlelength=1.0, handletextpad=0.3, labelspacing=0.2, borderpad=0,
           borderaxespad=0, labelcolor='#444444')
letter(708, 519, 'G')

# panel H
axh = ax_px(990, 1134, 525, 615)
bounds(axh, h_bounds)
axh.plot(h_t, h_y6, color=GREEN, lw=2.2, zorder=3)
axh.plot(h_t, h_y8, color=PINK, lw=2.2, zorder=2)
style(axh, (22.33, 23.36), (0, 3), [22.5, 23.1], [0, 3])
unit(axh, '1e3', 0.01)
letter(940, 519, 'H')

# panel I
axi = ax_px(1199, 1354, 525, 615)
bounds(axi, i_bounds)
axi.plot(i_t, i_y8, color=PINK, lw=2)
axi.plot(i_t, i_y5_main, color=BLUE, lw=2.2)
for hgt in i_heights:
    axi.plot(i_t, [hgt * p for p in i_profile], color=BLUE, lw=1)
style(axi, (22.28, 23.40), (0, 1), [22.5, 23.1], [0, 1])
unit(axi, '1e4', 0.01)
letter(1152, 519, 'I')

fig.savefig('out.png', dpi=100)
